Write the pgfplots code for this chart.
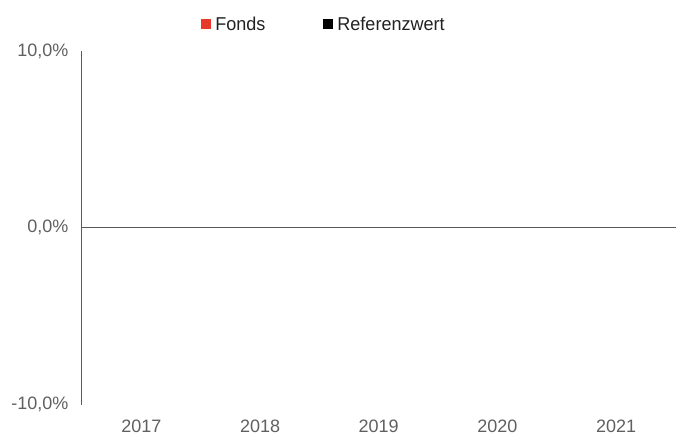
\documentclass[border=0pt]{standalone}
\usepackage{pgfplots}
\pgfplotsset{compat=1.18}
\usepackage{fontspec}
\setmainfont{Liberation Sans}
\newfontfamily\legfont[FakeStretch=0.97]{Liberation Sans}
\definecolor{fondsred}{RGB}{232,58,42}
\definecolor{axgray}{RGB}{90,90,90}
\definecolor{lblgray}{RGB}{96,96,96}
\definecolor{legtext}{RGB}{34,34,34}
\begin{document}
\begin{tikzpicture}
\begin{axis}[
  name=ax,
  at={(0pt,0pt)}, anchor=south west,
  scale only axis, width=594pt, height=354pt,
  xmin=-0.5, xmax=4.5, ymin=-10, ymax=10,
  axis lines*=left,
  x axis line style={draw=none},
  y axis line style={draw=axgray, line width=1pt},
  xtick={0,1,2,3,4},
  xticklabels={2017,2018,2019,2020,2021},
  ytick={-10,0,10},
  yticklabels={{-10,0\%},{0,0\%},{10,0\%}},
  major tick length=0pt,
  tick label style={font=\fontsize{18}{20}\selectfont, text=lblgray},
  yticklabel style={xshift=-10pt},
  xticklabel style={yshift=-12pt},
  extra y ticks={0},
  extra y tick labels={},
  extra y tick style={grid=major, major grid style={draw=axgray, line width=1pt}},
  legend columns=2,
  legend style={
    at={(0.407,1.076)}, anchor=center, draw=none, fill=none,
    font=\legfont\fontsize{18.6}{20}\selectfont, text=legtext,
    /tikz/every odd column/.append style={column sep=3pt},
    /tikz/every even column/.append style={column sep=57pt},
    nodes={inner sep=1pt}
  },
  legend image code/.code={\fill[#1] (0pt,-5pt) rectangle (10pt,5pt);},
]
\addlegendimage{fill=fondsred, draw=none}
\addlegendentry{Fonds}
\addlegendimage{fill=black, draw=none}
\addlegendentry{Referenzwert}
\end{axis}
\path[use as bounding box] (-82pt,-29pt) rectangle (594pt,405pt);
\end{tikzpicture}
\end{document}
